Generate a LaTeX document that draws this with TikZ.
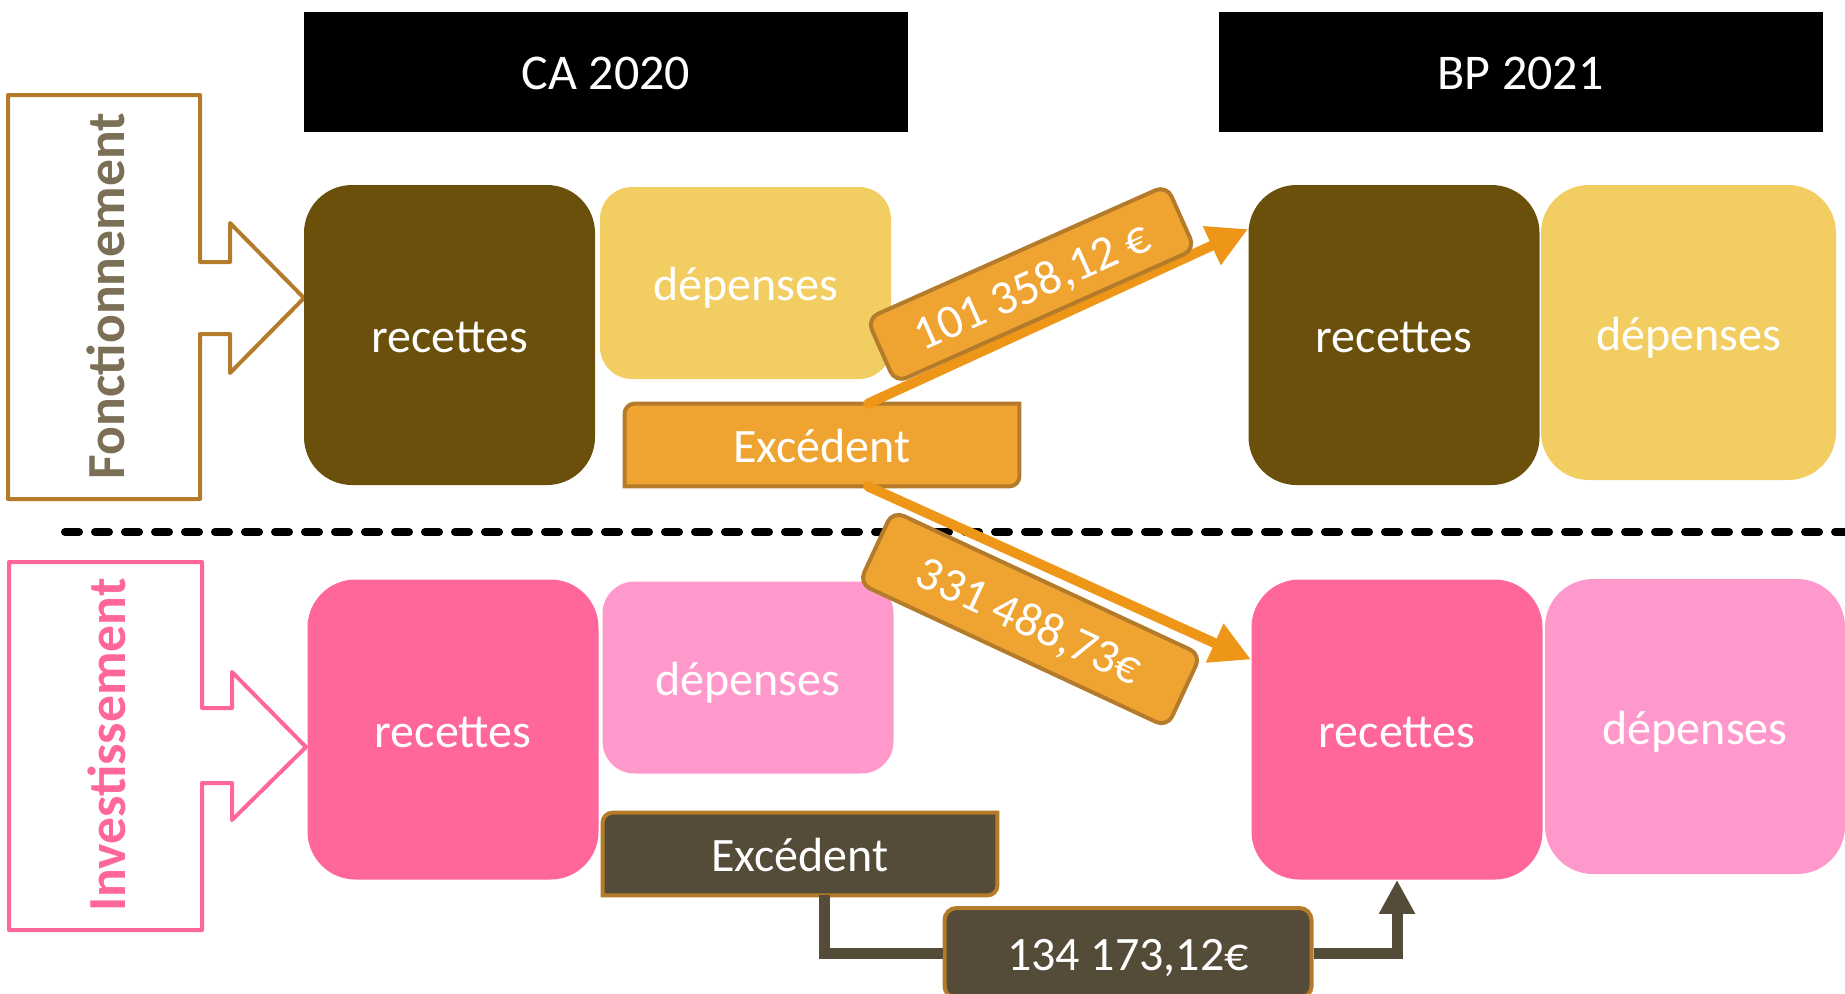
\documentclass[tikz,border=0pt]{standalone}
\usepackage{fontspec}
\setmainfont{Carlito}
\usetikzlibrary{arrows.meta, positioning, calc, backgrounds}

\definecolor{brun}{HTML}{6A500B}
\definecolor{sable}{HTML}{F2CE62}
\definecolor{ocre}{HTML}{B47B2A}
\definecolor{taupe}{HTML}{7B6F56}
\definecolor{orexc}{HTML}{EFA331}
\definecolor{orflux}{HTML}{EE9618}
\definecolor{rose}{HTML}{FF6699}
\definecolor{roseclair}{HTML}{FF99CC}
\definecolor{kaki}{HTML}{544C38}

\begin{document}
\begin{tikzpicture}[
  x=0.5pt, y=-0.5pt,
  txt/.style  ={text=white, font=\fontsize{24}{28}\selectfont,
                text height=21.5pt, text depth=3.8pt},
  head/.style ={txt, fill=black, minimum width=302pt, minimum height=60pt,
                font=\fontsize{25}{30}\selectfont},
  big/.style  ={txt, rounded corners=24pt, minimum width=145.5pt, minimum height=150pt},
  small/.style={txt, rounded corners=16pt, minimum width=145.5pt, minimum height=96pt},
  exc/.style  ={txt, minimum width=197pt, minimum height=41pt},
  val/.style  ={txt, draw=ocre, line width=2pt, fill=orexc, rounded corners=6pt},
  side/.style ={line width=2pt, line join=round},
  vert/.style ={rotate=90, font=\bfseries\fontsize{26.8}{30}\selectfont},
  flow/.style ={-{Triangle[length=20pt,width=20pt]}, line width=5pt,
                color=orflux, line cap=round},
  link/.style ={line width=5.5pt, color=kaki},
  sep/.style  ={line width=4pt, line cap=round, dash pattern=on 7pt off 8pt},
]
\useasboundingbox (0,0) rectangle (1845,993);

%% ---- Headers ----
\node[head] (ca) at ( 606, 72) {CA 2020};
\node[head] (bp) at (1520.5, 72) {BP 2021};

%% ---- Side tags ----
\draw[side, draw=ocre] (8,95) -- (200,95) -- (200,262) -- (230,262) -- (230,223)
  -- (304,298) -- (230,373) -- (230,334) -- (200,334) -- (200,499) -- (8,499) -- cycle;
\node[vert, text=taupe] (fTag) at (106,296) {Fonctionnement};
\draw[side, draw=rose] (9,562) -- (202,562) -- (202,708) -- (232,708) -- (232,672)
  -- (306,747) -- (232,820) -- (232,783) -- (202,783) -- (202,930) -- (9,930) -- cycle;
\node[vert, text=rose] (iTag) at (107,745) {Investissement};

%% ---- Separator ----
\draw[sep] (65,532) -- (1850,532);

%% ---- Fonctionnement ----
\node[big, fill=brun]    (fRecCA) at ( 449.5, 335)   {recettes};
\node[small, fill=sable] (fDepCA) at ( 745.5, 283)   {dépenses};
\node[exc]               (fExc)   at ( 822,   445)   {Excédent};
\node[big, fill=brun]    (fRecBP) at (1394,   335)   {recettes};
\node[big, fill=sable, minimum width=147.5pt, minimum height=147.5pt]
                         (fDepBP) at (1688.5, 332.5) {dépenses};

%% ---- Investissement ----
\node[big, fill=rose]        (iRecCA) at ( 453, 729.5) {recettes};
\node[small, fill=roseclair] (iDepCA) at ( 748, 677.5) {dépenses};
\node[exc]                   (iExc)   at ( 800, 854)   {Excédent};
\node[big, fill=rose]        (iRecBP) at (1397, 729.5) {recettes};
\node[big, fill=roseclair, minimum width=150pt, minimum height=147.5pt]
                             (iDepBP) at (1695, 726.5) {dépenses};

%% ---- Excedent frames (round on two corners only) ----
\begin{scope}[on background layer]
  \foreach \n/\c in {fExc/orexc, iExc/kaki}
    \draw[line width=2pt, draw=ocre, fill=\c]
      (\n.south west) -- ([yshift=-5pt]\n.north west)
      arc[start angle=180, end angle=90, radius=5pt] -- (\n.north east)
      -- ([yshift=5pt]\n.south east)
      arc[start angle=0, end angle=-90, radius=5pt] -- cycle;
\end{scope}

%% ---- Transfers ----
\draw[flow] ([xshift=23pt]fExc.north) -- ([yshift=53pt]fRecBP.west);
\draw[flow] ([xshift=23pt]fExc.south) -- ([yshift=35pt]iRecBP.west);
\node[val, rotate=24,  minimum width=164pt, minimum height=35pt] (fVal) at (1031,284) {101 358,12 €};
\node[val, rotate=-25, minimum width=170pt, minimum height=40pt] (iVal) at (1030,619) {331 488,73€};

\node[val, fill=kaki, minimum width=183.5pt, minimum height=45pt] (bVal) at (1128,953) {134 173,12€};
\draw[link] ([xshift=12pt]iExc.south) |- (bVal.west);
\draw[link, -{Triangle[length=17pt,width=17pt]}] (bVal.east) -| (iRecBP.south);

\end{tikzpicture}
\end{document}
